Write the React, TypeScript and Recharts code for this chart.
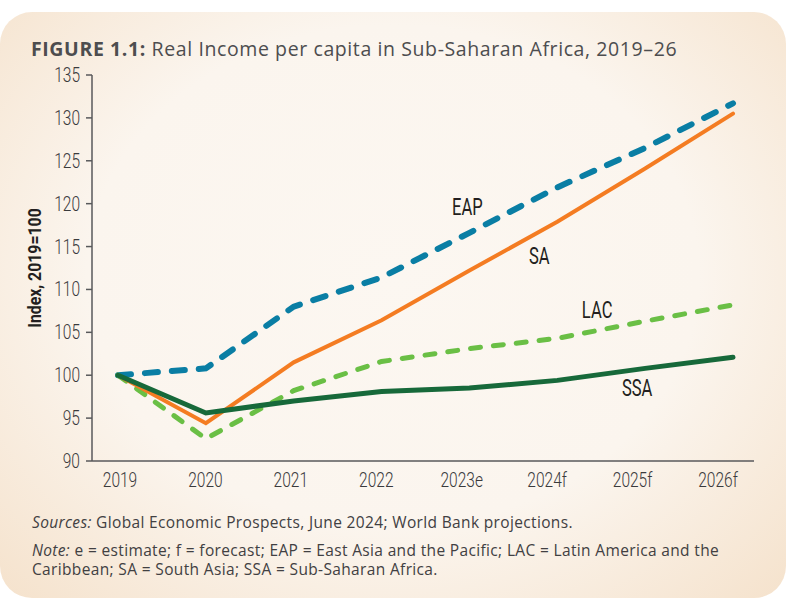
import { LineChart, Line, XAxis, YAxis, ReferenceDot } from "recharts";

const years = ["2019", "2020", "2021", "2022", "2023e", "2024f", "2025f", "2026f"];
const eap = [100, 100.8, 108, 111.4, 116.6, 121.9, 126.5, 131.7];
const sa = [100, 94.4, 101.5, 106.4, 112.2, 117.9, 124.1, 130.5];
const lac = [100, 92.6, 98.2, 101.6, 103.1, 104.3, 106.3, 108.2];
const ssa = [100, 95.6, 97, 98.1, 98.5, 99.4, 100.8, 102.1];
const yTicks = [90, 95, 100, 105, 110, 115, 120, 125, 130, 135];

const data = years.map((year, i) => ({
    year,
    EAP: eap[i],
    SA: sa[i],
    LAC: lac[i],
    SSA: ssa[i],
}));

const body = "'Open Sans', Lato, sans-serif";

// condensed look: no narrow face installed, so squeeze Roboto horizontally
function NarrowText(props: {
    x: number;
    y: number;
    text: string;
    size: number;
    squeeze: number;
    anchor?: "start" | "middle" | "end";
    weight?: number | string;
    fill?: string;
    rotate?: number;
}) {
    const { x, y, text, size, squeeze, anchor = "middle", weight = "normal", fill = "#414042", rotate = 0 } = props;
    return (
        <text
            transform={`translate(${x},${y}) rotate(${rotate}) scale(${squeeze},1)`}
            textAnchor={anchor}
            fontFamily="Roboto, sans-serif"
            fontSize={size}
            fontWeight={weight}
            fill={fill}
        >
            {text}
        </text>
    );
}

const seriesLabel = (text: string, dx: number) => ({
    content: (p: any) => (
        <NarrowText x={p.viewBox.x + dx} y={p.viewBox.y + 8} text={text} size={23} squeeze={0.72} fill="#231f20" />
    ),
});

export default function App() {
    return (
        <div style={{ position: "relative", width: 790, height: 598, background: "#fff", overflow: "hidden" }}>
            <style>{"body{margin:0}"}</style>
            <div
                style={{
                    position: "absolute",
                    left: 0,
                    top: 12,
                    width: 786,
                    height: 586,
                    borderRadius: 32,
                    background: "radial-gradient(ellipse at 50% 45%, #fcf7f1 0%, #fbf5ee 55%, #f5e2cc 100%)",
                }}
            />
            <div
                style={{
                    position: "absolute",
                    left: 31,
                    top: 35,
                    fontFamily: body,
                    fontSize: 19.5,
                    letterSpacing: 0.6,
                    color: "#4d4d4f",
                    whiteSpace: "nowrap",
                }}
            >
                <b>FIGURE 1.1:</b> Real Income per capita in Sub-Saharan Africa, 2019–26
            </div>
            <div style={{ position: "absolute", left: 0, top: 0 }}>
                <LineChart width={790} height={500} data={data} margin={{ top: 75, right: 36, left: 0, bottom: 0 }}>
                    <XAxis
                        xAxisId="data"
                        dataKey="year"
                        hide
                        height={0}
                        padding={{ left: 26, right: 21 }}
                    />
                    <XAxis
                        xAxisId="labels"
                        dataKey="year"
                        height={39}
                        padding={{ left: 28, right: 36 }}
                        tickLine={false}
                        tickSize={0}
                        tickMargin={12}
                        axisLine={{ stroke: "#58595b", strokeWidth: 1.5 }}
                        tick={(p: any) => (
                            <NarrowText x={p.x} y={p.y + 14} text={p.payload.value} size={21} squeeze={0.74} weight={300} fill="#3a3a3c" />
                        )}
                    />
                    <YAxis
                        width={92}
                        domain={[90, 135]}
                        ticks={yTicks}
                        interval={0}
                        tickSize={6}
                        tickMargin={6}
                        axisLine={{ stroke: "#58595b", strokeWidth: 1.5 }}
                        tickLine={{ stroke: "#58595b", strokeWidth: 1.5 }}
                        tick={(p: any) => (
                            <NarrowText
                                x={p.x}
                                y={p.y + 7}
                                text={String(p.payload.value)}
                                size={21}
                                squeeze={0.74}
                                weight={300}
                                fill="#3a3a3c"
                                anchor="end"
                            />
                        )}
                        label={{
                            content: (p: any) => (
                                <NarrowText
                                    x={p.viewBox.x + 41}
                                    y={p.viewBox.y + p.viewBox.height / 2}
                                    text="Index, 2019=100"
                                    size={18}
                                    squeeze={0.88}
                                    weight="bold"
                                    fill="#231f20"
                                    rotate={-90}
                                />
                            ),
                        }}
                    />
                    <Line
                        xAxisId="data"
                        dataKey="EAP"
                        stroke="#0a7ea4"
                        strokeWidth={6}
                        strokeDasharray="13 14"
                        strokeLinecap="round"
                        dot={false}
                        isAnimationActive={false}
                    />
                    <Line
                        xAxisId="data"
                        dataKey="LAC"
                        stroke="#6abf45"
                        strokeWidth={5}
                        strokeDasharray="10 13"
                        strokeLinecap="round"
                        dot={false}
                        isAnimationActive={false}
                    />
                    <Line
                        xAxisId="data"
                        dataKey="SA"
                        stroke="#f47c22"
                        strokeWidth={4}
                        strokeLinecap="round"
                        dot={false}
                        isAnimationActive={false}
                    />
                    <Line
                        xAxisId="data"
                        dataKey="SSA"
                        stroke="#17693a"
                        strokeWidth={5}
                        strokeLinecap="round"
                        dot={false}
                        isAnimationActive={false}
                    />
                    <ReferenceDot xAxisId="data" x="2023e" y={119.6} r={0} label={seriesLabel("EAP", -2)} />
                    <ReferenceDot xAxisId="data" x="2024f" y={113.9} r={0} label={seriesLabel("SA", -18)} />
                    <ReferenceDot xAxisId="data" x="2025f" y={107.6} r={0} label={seriesLabel("LAC", -48)} />
                    <ReferenceDot xAxisId="data" x="2025f" y={98.5} r={0} label={seriesLabel("SSA", -8)} />
                </LineChart>
            </div>
            <div
                style={{
                    position: "absolute",
                    left: 32,
                    top: 513,
                    fontFamily: body,
                    fontSize: 15.5,
                    letterSpacing: 0.35,
                    color: "#414042",
                    lineHeight: "19px",
                    whiteSpace: "nowrap",
                }}
            >
                <div>
                    <i>Sources:</i> Global Economic Prospects, June 2024; World Bank projections.
                </div>
                <div style={{ marginTop: 9 }}>
                    <i>Note:</i> e = estimate; f = forecast; EAP = East Asia and the Pacific; LAC = Latin America and the
                    <br />
                    Caribbean; SA = South Asia; SSA = Sub-Saharan Africa.
                </div>
            </div>
        </div>
    );
}
